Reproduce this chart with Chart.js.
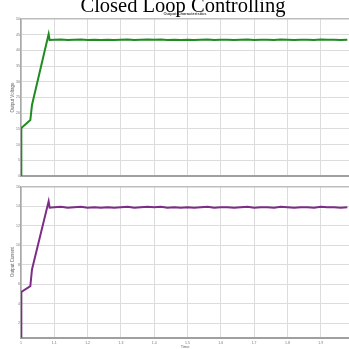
<!DOCTYPE html>
<html><head><meta charset="utf-8">
<script src="https://cdn.jsdelivr.net/npm/chart.js@4"></script>
<style>
html,body{margin:0;padding:0;background:#fff;width:349px;height:349px;overflow:hidden}
#title{position:absolute;left:17px;width:332px;top:-5px;text-align:center;font:20.5px 'Liberation Serif',serif;color:#000;line-height:20px;white-space:nowrap}
canvas{position:absolute;left:0}
</style></head><body>
<canvas id="c1" width="349" height="180" style="top:0"></canvas>
<canvas id="c2" width="349" height="169" style="top:180px"></canvas>
<div id="title">Closed Loop Controlling</div>
<script>
// ---- data ----
const timeVals = [1.0,1.001,1.028,1.033,1.083,1.086,
 1.1,1.12,1.14,1.16,1.18,1.2,1.22,1.24,1.26,1.28,1.3,1.32,1.34,1.36,1.38,1.4,1.42,1.44,1.46,1.48,
 1.5,1.52,1.54,1.56,1.58,1.6,1.62,1.64,1.66,1.68,1.7,1.72,1.74,1.76,1.78,1.8,1.82,1.84,1.86,1.88,
 1.9,1.92,1.94,1.96,1.98];
const voltageVals = [0,15.3,17.8,22.6,45.2,43.3,
 43.4,43.5,43.3,43.4,43.5,43.3,43.4,43.3,43.4,43.3,
 43.4,43.5,43.3,43.4,43.5,43.4,43.5,43.3,43.4,43.3,
 43.4,43.3,43.4,43.5,43.3,43.4,43.4,43.3,43.4,43.5,
 43.3,43.4,43.4,43.3,43.5,43.4,43.3,43.4,43.4,43.3,
 43.5,43.4,43.4,43.3,43.4];
const currentVals = [0.5,5.2,5.8,7.5,14.5,13.85,
 13.9,13.95,13.85,13.9,13.95,13.85,13.9,13.85,13.9,13.85,
 13.9,13.95,13.85,13.9,13.95,13.9,13.95,13.85,13.9,13.85,
 13.9,13.85,13.9,13.95,13.85,13.9,13.9,13.85,13.9,13.95,
 13.85,13.9,13.9,13.85,13.95,13.9,13.85,13.9,13.9,13.85,
 13.95,13.9,13.9,13.85,13.9];
const xTickValues = [1,1.1,1.2,1.3,1.4,1.5,1.6,1.7,1.8,1.9];
const xTickLabels = ['1','1.1','1.2','1.3','1.4','1.5','1.6','1.7','1.8','1.9'];
const voltTicks = [0,5,10,15,20,25,30,35,40,45,50];
const currTicks = [2,4,6,8,10,12,14,16];

const gridCol = '#dcdcdc';
const tickFont = {family:'Liberation Sans', size:3.5};
function pts(ys){ return timeVals.map((t,i)=>({x:t,y:ys[i]})); }
function setTicks(vals){ return s => { s.ticks = vals.map(v=>({value:v})); }; }

function xScale(showLabels){
  return {
    type:'linear', min:1, max:1.985,
    afterBuildTicks: setTicks(xTickValues),
    grid:{color:gridCol, lineWidth:1, drawTicks:false},
    border:{color:'#a0a0a0', width:2},
    ticks:{display:showLabels, font:tickFont, color:'#777', padding:3,
      callback:(v)=>{const i=xTickValues.indexOf(v); return i>=0?xTickLabels[i]:'';}},
    title:{display:showLabels, text:'Time', font:{family:'Liberation Sans', size:4}, color:'#666', padding:{top:0,bottom:0}},
    afterFit: s=>{ s.height = showLabels ? 11.3 : 0; }
  };
}
function yScale(min,max,ticks,title,topCol){
  return {
    type:'linear', min:min, max:max,
    afterBuildTicks: setTicks(ticks),
    grid:{color:(c)=> c.tick && c.tick.value===max ? topCol : gridCol, lineWidth:(c)=> c.tick && c.tick.value===max ? 1.5 : 1, drawTicks:false},
    border:{color:'#a8a8a8', width:1.5},
    ticks:{font:tickFont, color:'#777', padding:1, callback:(v)=>String(v)},
    title:{display:true, text:title, font:{family:'Liberation Sans', size:4.5}, color:'#666', padding:{top:10,bottom:0}},
    afterFit: s=>{ s.width = 21; }
  };
}

new Chart(document.getElementById('c1'), {
  type:'line',
  data:{datasets:[{data:pts(voltageVals), borderColor:'rgb(30,140,30)', borderWidth:2, pointRadius:0, tension:0}]},
  options:{
    responsive:false, animation:false,
    layout:{padding:{top:0,bottom:4,left:0,right:0}},
    plugins:{legend:{display:false}, tooltip:{enabled:false},
      title:{display:true, fullSize:false, text:'Output Characteristics', font:{family:'Liberation Sans', size:4}, color:'#444', padding:{top:11,bottom:3.2}, align:'center'}},
    scales:{x:xScale(false), y:yScale(0,50,voltTicks,'Output Voltage','#bdbdbd')}
  }
});
new Chart(document.getElementById('c2'), {
  type:'line',
  data:{datasets:[{data:pts(currentVals), borderColor:'rgb(125,45,135)', borderWidth:2, pointRadius:0, tension:0}]},
  options:{
    responsive:false, animation:false,
    layout:{padding:{top:6.7,bottom:0,left:0,right:0}},
    plugins:{legend:{display:false}, tooltip:{enabled:false}},
    scales:{x:xScale(true), y:yScale(0.5,16,currTicks,'Output Current','#bdbdbd')}
  }
});
</script>
</body></html>
